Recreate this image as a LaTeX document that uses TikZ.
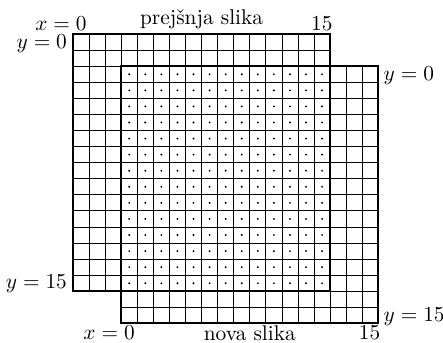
\documentclass[tikz,border=0pt]{standalone}
\usepackage{tikz}
\usetikzlibrary{positioning}

\begin{document}
\begin{tikzpicture}[x=0.265cm, y=-0.265cm,
    gridline/.style={line width=0.4pt, step=0.265cm},
    frame/.style={line width=1pt},
    lbl/.style={inner sep=0pt},
    pixdot/.style={fill=black}
]
\useasboundingbox (-4.54,-2.12) rectangle (23.02,19.17);

% grids: previous image and new image (shifted by 3,2)
\draw[gridline] (0,0) grid (16,16);
\draw[gridline] (3,2) grid (19,18);
\foreach \i in {3,...,15}
  \foreach \j in {2,...,15}
    \fill[pixdot] (\i+0.5,\j+0.5) circle[radius=0.5pt];
\draw[frame] (0,0) rectangle (16,16);
\draw[frame] (3,2) rectangle (19,18);

% labels of the previous image
\node[lbl, anchor=base east] (oldx0)   at (0.87,-0.25) {$x=0$};
\node[lbl, anchor=base]      (old15)   at (15.48,-0.25) {$15$};
\node[lbl, anchor=base]      (oldname) at (8,-0.62) {prejšnja slika};
\node[lbl, anchor=base east] (oldy0)   at (-0.35,0.88) {$y=0$};
\node[lbl, anchor=base east] (oldy15)  at (-0.35,15.85) {$y=15$};

% labels of the new image
\node[lbl, anchor=base west] (newy0)   at (19.3,2.9) {$y=0$};
\node[lbl, anchor=base west] (newy15)  at (19.3,17.88) {$y=15$};
\node[lbl, anchor=base east] (newx0)   at (3.87,18.98) {$x=0$};
\node[lbl, anchor=base]      (new15)   at (18.45,18.98) {$15$};
\node[lbl, anchor=base]      (newname) at (11,19.08) {nova slika};
\end{tikzpicture}
\end{document}
